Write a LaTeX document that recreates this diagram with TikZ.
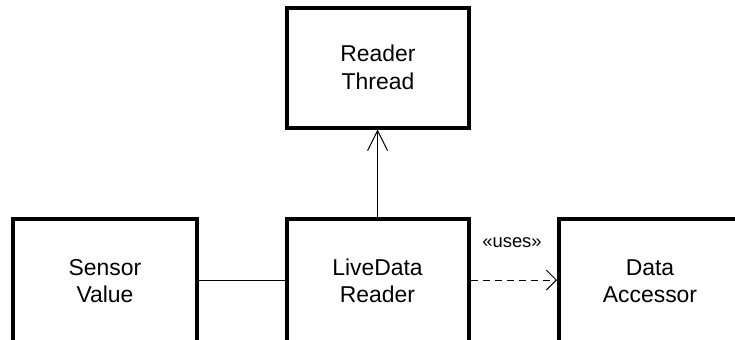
\documentclass[tikz,border=0pt]{standalone}
\usepackage{fontspec}
\setmainfont{Liberation Sans}
\usetikzlibrary{arrows.meta}
\tikzset{
  cls/.style={draw=black, line width=4bp, minimum width=182bp, minimum height=120bp,
    inner sep=0pt, align=center, font=\fontsize{23}{27.5}\selectfont},
  lowcls/.style={cls, minimum height=124bp},
  conn/.style={draw=black, line width=1bp},
  opentip/.style={-{Straight Barb[length=#1,width=20bp,line width=1bp]}},
  stereo/.style={font=\fontsize{18.5}{21}\selectfont, inner sep=0pt}
}
\begin{document}
\begin{tikzpicture}[x=1bp,y=-1bp]
\useasboundingbox (0,0) rectangle (735,339);
\clip (0,0) rectangle (735,339);
\node[cls] (rt) at (378,67.5) {Reader\\Thread};
\node[lowcls] (ldr) at (377.5,281) {LiveData\\Reader};
\node[lowcls, minimum width=184bp] (sv) at (105,281) {Sensor\\Value};
\node[lowcls] (da) at (650,281) {Data\\Accessor};
\draw[conn] (sv.east |- 0,280) -- (ldr.west |- 0,280);
\draw[conn, opentip=20bp] (ldr.north) -- (ldr.north |- rt.south);
\draw[conn, dash pattern=on 7bp off 5bp, opentip=10bp] (ldr.east |- 0,280) -- (da.west |- 0,280);
\node[stereo] (uses) at (512,243) {«uses»};
\end{tikzpicture}
\end{document}
